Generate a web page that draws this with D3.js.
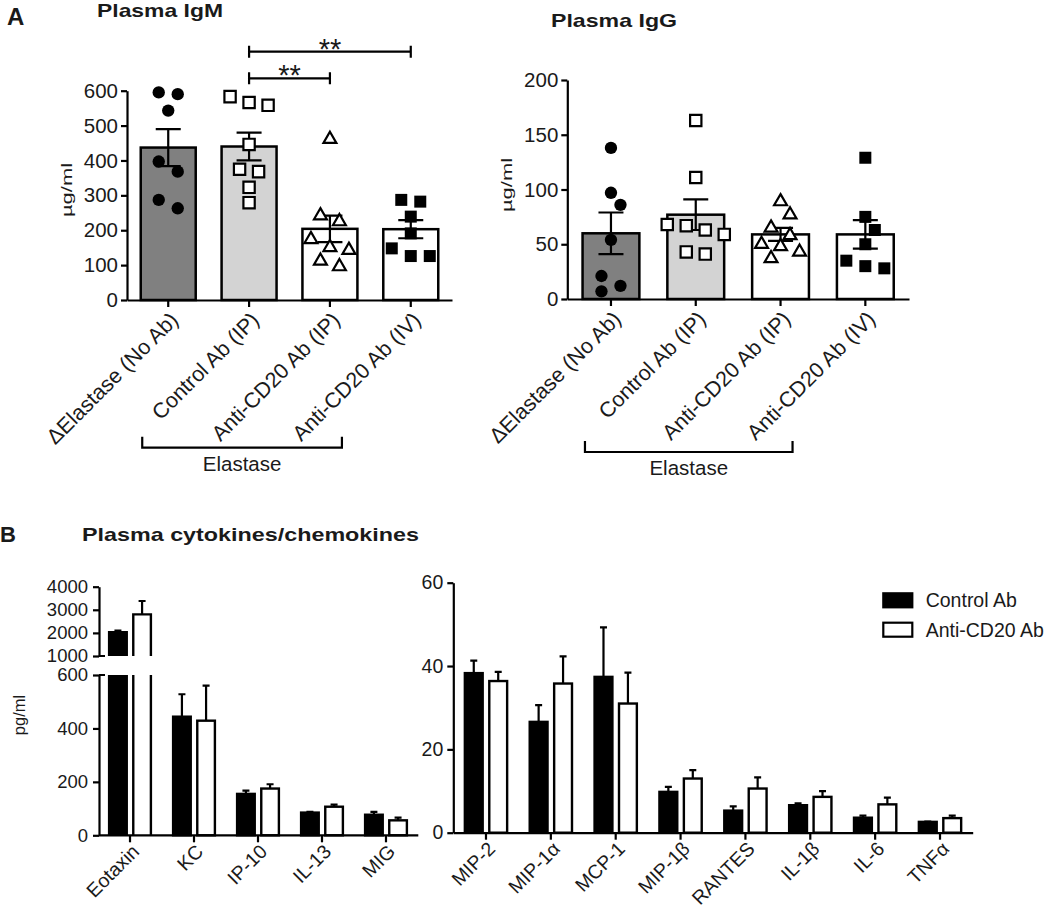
<!DOCTYPE html>
<html><head><meta charset="utf-8">
<script src="https://cdn.jsdelivr.net/npm/d3@7"></script>
<style>
body{margin:0;background:#fff;}
text{font-family:"Liberation Sans",Arial,sans-serif;fill:#1a1a1a;}
</style></head><body>
<script>
// ---------- DATA ----------
const abGroups = ["\u0394Elastase (No Ab)", "Control Ab (IP)", "Anti-CD20 Ab (IP)", "Anti-CD20 Ab (IV)"];
const igmTicks = [0, 100, 200, 300, 400, 500, 600];
const igmMean = [437, 440, 204, 203];
const igmSem = [53, 40, 38, 26];
const igmNoAb = [595, 590, 543, 397, 368, 287, 263];
const igmCtrlIP = [583, 566, 558, 446, 375, 368, 323, 279];
const igmCd20IP = [461, 242, 225, 174, 151, 143, 112, 96];
const igmCd20IV = [287, 282, 239, 191, 148, 126, 126];
const igmSig = [["Control Ab (IP)", "Anti-CD20 Ab (IV)", "**"], ["Control Ab (IP)", "Anti-CD20 Ab (IP)", "**"]];

const iggTicks = [0, 50, 100, 150, 200];
const iggMean = [60, 77, 59, 59];
const iggSem = [19, 14, 6, 13];
const iggNoAb = [138, 97, 86, 54, 21, 12, 7];
const iggCtrlIP = [163, 111, 68, 67, 63, 59, 43, 41];
const iggCd20IP = [89, 77, 65, 58, 50, 48, 43, 37];
const iggCd20IV = [129, 75, 63, 50, 35, 30, 28];

const series = ["Control Ab", "Anti-CD20 Ab"];
const cytoLeft = ["Eotaxin", "KC", "IP-10", "IL-13", "MIG"];
const ctrlLeft = [2030, 444, 155, 85, 77];
const ctrlLeftSem = [70, 84, 12, 3, 11];
const antiLeft = [2800, 429, 175, 107, 56];
const antiLeftSem = [580, 131, 16, 8, 10];
const leftTicksLow = [0, 200, 400, 600];
const leftTicksHigh = [1000, 2000, 3000, 4000];

const cytoRight = ["MIP-2", "MIP-1\u03b1", "MCP-1", "MIP-1\u03b2", "RANTES", "IL-1\u03b2", "IL-6", "TNF\u03b1"];
const ctrlRight = [38.3, 26.6, 37.4, 9.8, 5.3, 6.6, 3.6, 2.6];
const ctrlRightSem = [3.0, 4.0, 11.9, 1.2, 1.0, 0.45, 0.5, 0.05];
const antiRight = [36.4, 35.8, 31.0, 13.0, 10.6, 8.6, 6.8, 3.5];
const antiRightSem = [2.2, 6.5, 7.4, 2.0, 2.7, 1.4, 1.6, 0.6];
const rightTicks = [0, 20, 40, 60];

// ---------- DRAW ----------
const svg = d3.select("body").append("svg").attr("width", 1050).attr("height", 910);
const SW = 2.2;

function styleAxis(g, fs) {
  g.selectAll(".domain, .tick line").attr("stroke", "#000").attr("stroke-width", SW);
  g.selectAll(".tick text").attr("font-size", fs).attr("fill", "#1a1a1a")
    .attr("font-family", '"Liberation Sans",Arial,sans-serif');
}

// GraphPad-like scatter: rows of nearly equal values are centred around the bar
function swarm(vals, y, Dv, S, R) {
  const pts = vals.map(v => ({ v, y: y(v) })).sort((a, b) => a.y - b.y);
  const placed = [];
  let i = 0;
  while (i < pts.length) {
    const start = pts[i].y, cl = [];
    while (i < pts.length && pts[i].y - start < Dv) { cl.push(pts[i]); i++; }
    const n = cl.length;
    const offs = cl.map((p, k) => (k - (n - 1) / 2) * S);
    const collides = sh => cl.some((p, k) => placed.some(q => Math.hypot(q.x - (offs[k] + sh), q.y - p.y) < R));
    let shift = 0;
    for (const s of [0, S / 2, -S / 2, S, -S]) { if (!collides(s)) { shift = s; break; } }
    cl.forEach((p, k) => placed.push({ x: offs[k] + shift, y: p.y }));
  }
  return placed;
}

function scatterPanel(opt) {
  const { x0, x1, yTop, yBot, ticks, mean, sem, pts, fills, yLabel, yLabelX, yLabelY, bracket } = opt;
  const y = d3.scaleLinear().domain([0, ticks[ticks.length - 1]]).range([yBot, yTop]);
  const x = d3.scaleBand().domain(abGroups).range([x0, x1]).paddingInner(opt.pi).paddingOuter(opt.po);
  const g = svg.append("g");
  const bw = x.bandwidth();
  g.selectAll("rect.bar").data(abGroups).join("rect")
    .attr("x", d => x(d)).attr("width", bw)
    .attr("y", (d, i) => y(mean[i])).attr("height", (d, i) => y(0) - y(mean[i]))
    .attr("fill", (d, i) => fills[i]).attr("stroke", "#000").attr("stroke-width", 2.5);
  const ya = g.append("g").attr("transform", `translate(${x0},0)`)
    .call(d3.axisLeft(y).tickValues(ticks).tickSize(6).tickPadding(3).tickSizeOuter(0).tickFormat(d3.format("d")));
  styleAxis(ya, 20.5);
  const xa = g.append("g").attr("transform", `translate(0,${yBot})`)
    .call(d3.axisBottom(x).tickSize(7).tickSizeOuter(0).tickFormat(""));
  styleAxis(xa, 20);
  // error bars (mean +/- SEM)
  abGroups.forEach((d, i) => {
    const cx = x(d) + bw / 2, cw = 12.5;
    const yt = y(mean[i] + sem[i]), yb = y(mean[i] - sem[i]);
    g.append("path").attr("d", `M${cx},${yb}V${yt}M${cx - cw},${yt}H${cx + cw}M${cx - cw},${yb}H${cx + cw}`)
      .attr("stroke", "#000").attr("stroke-width", SW).attr("fill", "none");
  });
  // points
  const kinds = ["circle", "squareOpen", "triangle", "squareFilled"];
  pts.forEach((vals, i) => {
    const cx = x(abGroups[i]) + bw / 2;
    const sw = swarm(vals, y, 12, 19, 13.5);
    const k = kinds[i];
    let sym, fill;
    if (k === "circle") { sym = d3.symbol(d3.symbolCircle, 120); fill = "#000"; }
    else if (k === "squareOpen") { sym = d3.symbol(d3.symbolSquare, 128); fill = "#fff"; }
    else if (k === "triangle") { sym = d3.symbol(d3.symbolTriangle, 72); fill = "#fff"; }
    else { sym = d3.symbol(d3.symbolSquare, 144); fill = "#000"; }
    g.selectAll(null).data(sw).join("path")
      .attr("d", sym).attr("transform", d => `translate(${cx + d.x},${d.y})`)
      .attr("fill", fill).attr("stroke", "#000").attr("stroke-width", (k === "circle" || k === "squareFilled") ? 0 : 2.2);
  });
  // category labels
  abGroups.forEach(d => {
    const cx = x(d) + bw / 2;
    g.append("text").attr("transform", `translate(${cx + 6},${yBot + 16}) rotate(-45)`)
      .attr("text-anchor", "end").attr("dy", "0.35em").attr("font-size", 21.5).text(d);
  });
  g.append("text").attr("transform", `translate(${yLabelX},${yLabelY}) rotate(-90)`)
    .attr("text-anchor", "middle").attr("dy", "0.35em").attr("font-size", 15.5)
    .attr("textLength", 54).attr("lengthAdjust", "spacingAndGlyphs").text(yLabel);
  const bx0 = x(abGroups[0]) + bw / 2 - 26, bx1 = x(abGroups[2]) + bw / 2 + 12;
  g.append("path").attr("d", `M${bx0},${bracket - 11}V${bracket}H${bx1}V${bracket - 11}`)
    .attr("stroke", "#000").attr("stroke-width", SW).attr("fill", "none");
  g.append("text").attr("x", (bx0 + bx1) / 2).attr("y", bracket + 23).attr("text-anchor", "middle")
    .attr("font-size", 20.5).text("Elastase");
  return { x, y, g, bw };
}

const igm = scatterPanel({
  x0: 127, x1: 452, yTop: 90.7, yBot: 300, ticks: igmTicks, mean: igmMean, sem: igmSem,
  pts: [igmNoAb, igmCtrlIP, igmCd20IP, igmCd20IV], fills: ["#808080", "#d3d3d3", "#fff", "#fff"],
  yLabel: "\u00b5g/ml", yLabelX: 66.5, yLabelY: 190, bracket: 447.7, pi: 0.32, po: 0.17
});
const sigY = [51.7, 78.3];
igmSig.forEach((s, i) => {
  const xa = igm.x(s[0]) + igm.bw / 2, xb = igm.x(s[1]) + igm.bw / 2;
  const yy = sigY[i];
  igm.g.append("path").attr("d", `M${xa},${yy + 6}V${yy - 6}M${xa},${yy}H${xb}M${xb},${yy + 6}V${yy - 6}`)
    .attr("stroke", "#000").attr("stroke-width", SW).attr("fill", "none");
  igm.g.append("text").attr("x", (xa + xb) / 2).attr("y", yy + 7).attr("text-anchor", "middle")
    .attr("font-size", 29).text(s[2]);
});

scatterPanel({
  x0: 567.3, x1: 909, yTop: 80, yBot: 299, ticks: iggTicks, mean: iggMean, sem: iggSem,
  pts: [iggNoAb, iggCtrlIP, iggCd20IP, iggCd20IV], fills: ["#808080", "#d3d3d3", "#fff", "#fff"],
  yLabel: "\u00b5g/ml", yLabelX: 506.7, yLabelY: 185, bracket: 452, pi: 0.33, po: 0.18
});

svg.append("text").attr("x", 7).attr("y", 25).attr("font-size", 24).attr("font-weight", "bold").text("A");
svg.append("text").attr("x", 97).attr("y", 17).attr("font-size", 18.5).attr("font-weight", "bold")
  .attr("textLength", 126).attr("lengthAdjust", "spacingAndGlyphs").text("Plasma IgM");
svg.append("text").attr("x", 551).attr("y", 27).attr("font-size", 18.5).attr("font-weight", "bold")
  .attr("textLength", 126).attr("lengthAdjust", "spacingAndGlyphs").text("Plasma IgG");
svg.append("text").attr("x", 0).attr("y", 541.7).attr("font-size", 22).attr("font-weight", "bold").text("B");
svg.append("text").attr("x", 82).attr("y", 541).attr("font-size", 18.5).attr("font-weight", "bold")
  .attr("textLength", 337).attr("lengthAdjust", "spacingAndGlyphs").text("Plasma cytokines/chemokines");

function groupedBars(g, x, xs, cats, ctrl, ctrlSem, anti, antiSem, yFor, breakInfo) {
  const cols = ["#000", "#fff"];
  cats.forEach((c, i) => {
    [[ctrl[i], ctrlSem[i]], [anti[i], antiSem[i]]].forEach((vs, j) => {
      const v = vs[0], e = vs[1];
      const bx = x(c) + xs(series[j]), w = xs.bandwidth();
      const cx = bx + w / 2;
      if (breakInfo && v > breakInfo.lowMax) {
        const yl = breakInfo.yLow, yh = breakInfo.yHigh;
        g.append("rect").attr("x", bx).attr("width", w).attr("y", yl(breakInfo.lowMax)).attr("height", yl(0) - yl(breakInfo.lowMax)).attr("fill", cols[j]);
        g.append("path").attr("d", `M${bx},${yl(0)}V${yl(breakInfo.lowMax)}M${bx + w},${yl(breakInfo.lowMax)}V${yl(0)}`)
          .attr("stroke", "#000").attr("stroke-width", 2.4).attr("fill", "none");
        g.append("rect").attr("x", bx).attr("width", w).attr("y", yh(v)).attr("height", yh(breakInfo.highMin) - yh(v)).attr("fill", cols[j]);
        g.append("path").attr("d", `M${bx},${yh(breakInfo.highMin)}V${yh(v)}H${bx + w}V${yh(breakInfo.highMin)}`)
          .attr("stroke", "#000").attr("stroke-width", 2.4).attr("fill", "none");
        g.append("path").attr("d", `M${cx},${yh(v)}V${yh(v + e)}M${cx - 3.5},${yh(v + e)}H${cx + 3.5}`)
          .attr("stroke", "#000").attr("stroke-width", SW).attr("fill", "none");
      } else {
        g.append("rect").attr("x", bx).attr("width", w).attr("y", yFor(v)).attr("height", yFor(0) - yFor(v))
          .attr("fill", cols[j]).attr("stroke", "#000").attr("stroke-width", 2.4);
        g.append("path").attr("d", `M${cx},${yFor(v)}V${yFor(v + e)}M${cx - 3.5},${yFor(v + e)}H${cx + 3.5}`)
          .attr("stroke", "#000").attr("stroke-width", SW).attr("fill", "none");
      }
    });
  });
}

function catLabels(g, x, cats, yBase) {
  cats.forEach(c => {
    const cx = x(c) + x.bandwidth() / 2;
    g.append("text").attr("transform", `translate(${cx + 6},${yBase + 13}) rotate(-45)`)
      .attr("text-anchor", "end").attr("dy", "0.32em").attr("font-size", 19.5).text(c);
  });
}

// Panel B left (broken axis)
{
  const g = svg.append("g");
  const yLow = d3.scaleLinear().domain([0, 600]).range([835.3, 675]);
  const yHigh = d3.scaleLinear().domain([1000, 4000]).range([656, 586.7]);
  const x = d3.scaleBand().domain(cytoLeft).range([99, 417]).paddingInner(0.347).paddingOuter(0.158);
  const xs = d3.scaleBand().domain(series).range([0, x.bandwidth()]).paddingInner(0.27);
  groupedBars(g, x, xs, cytoLeft, ctrlLeft, ctrlLeftSem, antiLeft, antiLeftSem, yLow,
    { lowMax: 600, highMin: 1000, yLow, yHigh });
  const a1 = g.append("g").attr("transform", "translate(99,0)")
    .call(d3.axisLeft(yLow).tickValues(leftTicksLow).tickSize(6).tickPadding(5).tickSizeOuter(0).tickFormat(d3.format("d")));
  styleAxis(a1, 18.5);
  const a2 = g.append("g").attr("transform", "translate(99,0)")
    .call(d3.axisLeft(yHigh).tickValues(leftTicksHigh).tickSize(6).tickPadding(5).tickSizeOuter(0).tickFormat(d3.format("d")));
  styleAxis(a2, 18.5);
  g.append("path").attr("d", `M99,${yLow(600)}H105M99,${yHigh(1000)}H105`).attr("stroke", "#000").attr("stroke-width", SW);
  const xa = g.append("g").attr("transform", "translate(0,835.3)")
    .call(d3.axisBottom(x).tickSize(7).tickSizeOuter(0).tickFormat(""));
  xa.select(".domain").attr("d", `M99,0H418.3`);
  styleAxis(xa, 19);
  catLabels(g, x, cytoLeft, 835.3);
  g.append("text").attr("transform", "translate(19,715) rotate(-90)").attr("text-anchor", "middle")
    .attr("dy", "0.35em").attr("font-size", 16.5).text("pg/ml");
}

// Panel B right
{
  const g = svg.append("g");
  const y = d3.scaleLinear().domain([0, 60]).range([832.7, 582.7]);
  const x = d3.scaleBand().domain(cytoRight).range([453.3, 972.7]).paddingInner(0.348).paddingOuter(0.178);
  const xs = d3.scaleBand().domain(series).range([0, x.bandwidth()]).paddingInner(0.27);
  groupedBars(g, x, xs, cytoRight, ctrlRight, ctrlRightSem, antiRight, antiRightSem, y, null);
  const a1 = g.append("g").attr("transform", "translate(453.3,0)")
    .call(d3.axisLeft(y).tickValues(rightTicks).tickSize(6).tickPadding(4).tickSizeOuter(0));
  styleAxis(a1, 19.5);
  const xa = g.append("g").attr("transform", "translate(0,832.7)")
    .call(d3.axisBottom(x).tickSize(7).tickSizeOuter(0).tickFormat(""));
  styleAxis(xa, 19);
  catLabels(g, x, cytoRight, 832.7);
  const lg = svg.append("g").attr("transform", "translate(883.3,593.3)");
  series.forEach((s, i) => {
    lg.append("rect").attr("x", 0).attr("y", i * 29.4).attr("width", 29).attr("height", 14)
      .attr("fill", i === 0 ? "#000" : "#fff").attr("stroke", "#000").attr("stroke-width", 2.2);
    lg.append("text").attr("x", 42.4).attr("y", i * 29.4 + 7).attr("dy", "0.35em").attr("font-size", 19.5).text(s);
  });
}
</script>
</body></html>
